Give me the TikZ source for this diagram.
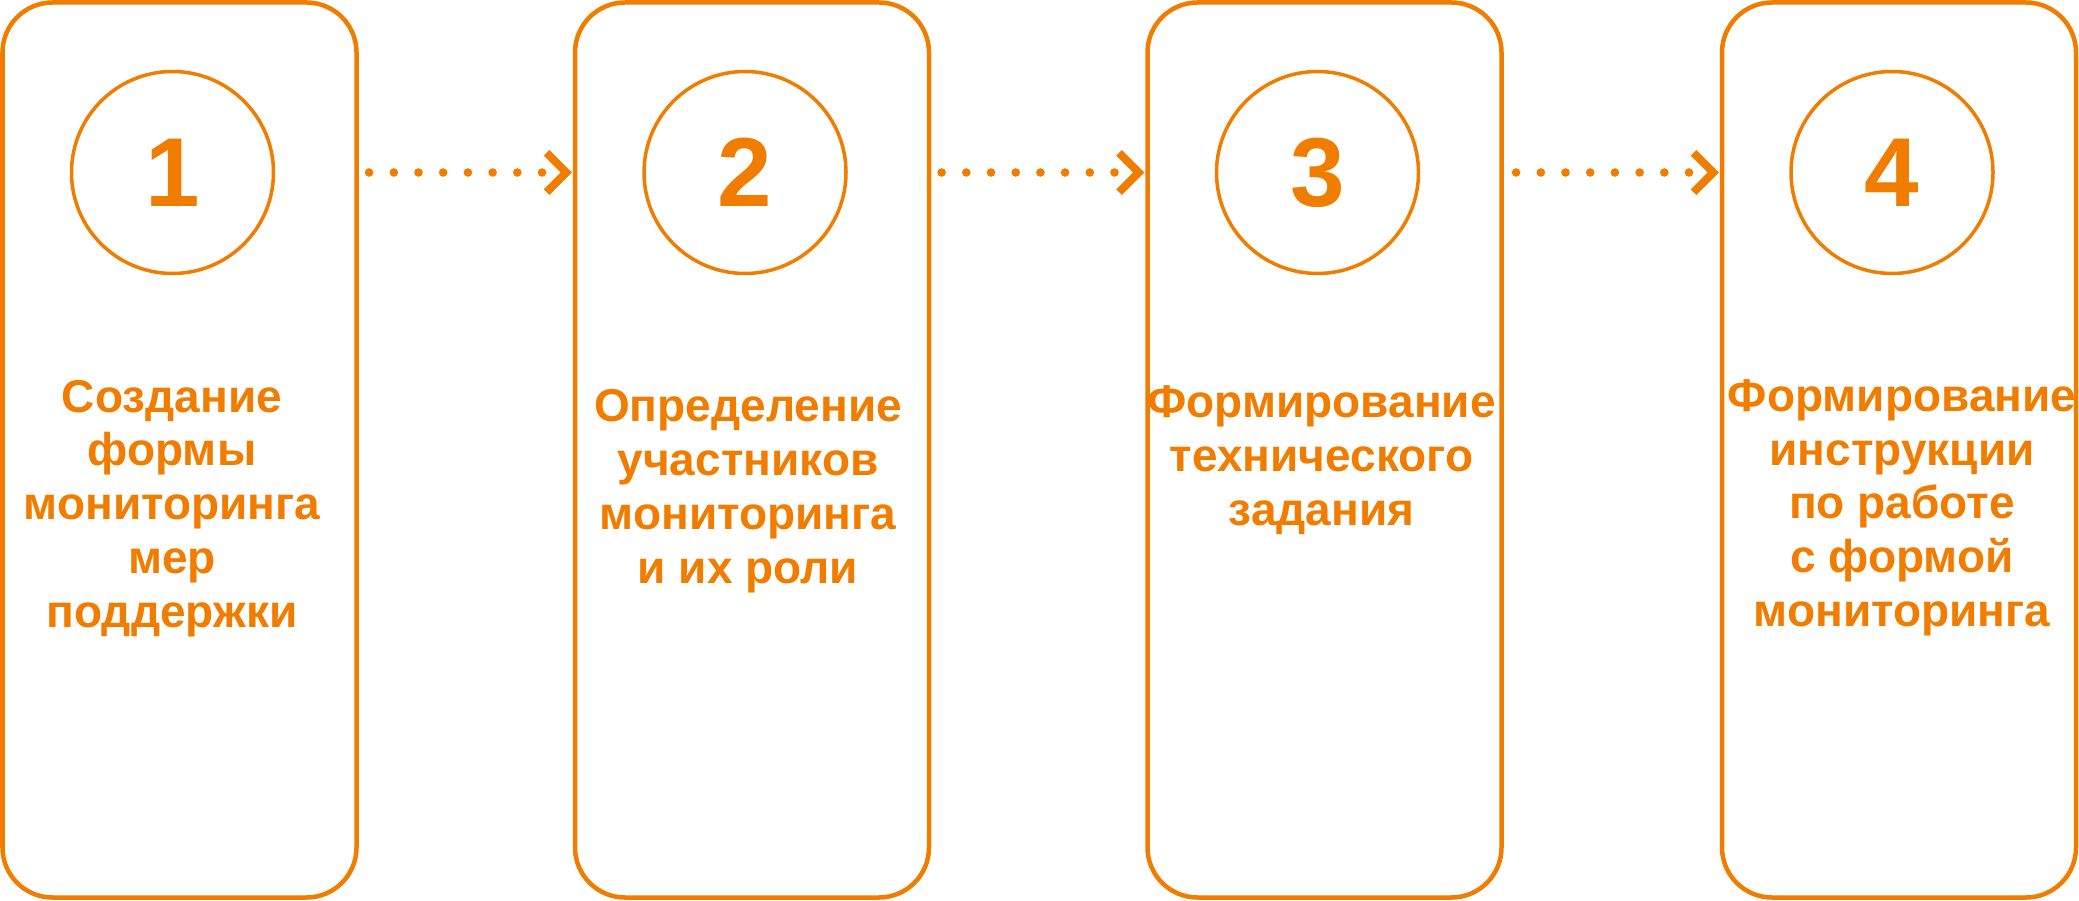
\documentclass[tikz,border=0pt]{standalone}
\usepackage{fontspec}
\setmainfont{Liberation Sans}
\usetikzlibrary{positioning}
\definecolor{stepOrange}{RGB}{240,125,0}
\tikzset{
	stepbox/.style = {draw=stepOrange, line width=4.5pt, rectangle, rounded corners=50pt, minimum width=354pt, minimum height=895pt, inner sep=0pt, outer sep=0pt},
	numcircle/.style = {draw=stepOrange, line width=3.5pt, circle, minimum size=202pt, inner sep=0pt, outer sep=0pt, text=stepOrange, font=\bfseries\fontsize{98pt}{98pt}\selectfont},
	steptext/.style = {text=stepOrange, align=center, anchor=base, inner sep=0pt, font=\bfseries\fontsize{46pt}{53.8pt}\selectfont},
	dotline/.style = {stepOrange, line width=8.6pt, line cap=round, dash pattern=on 0pt off 24.7pt},
	chevron/.style = {stepOrange, line width=8pt, line cap=butt, line join=miter}
}

\begin{document}
\begin{tikzpicture}[x=1pt, y=1pt]
	\useasboundingbox (0,0) rectangle (2079,-901);
	% ========================== Nodes ============================
	% Boxes
	\node [stepbox] (box1) at (179.5,-450) {};
	\node [stepbox, right of=box1, node distance=572.5pt] (box2) {};
	\node [stepbox, right of=box2, node distance=572.5pt] (box3) {};
	\node [stepbox, right of=box3, node distance=574.5pt] (box4) {};

	% Numbers
	\node [numcircle] (num1) at ([xshift=-7pt, yshift=-170pt]box1.north) {1};
	\node [numcircle] (num2) at ([xshift=-7pt, yshift=-170pt]box2.north) {2};
	\node [numcircle] (num3) at ([xshift=-7pt, yshift=-170pt]box3.north) {3};
	\node [numcircle] (num4) at ([xshift=-7pt, yshift=-170pt]box4.north) {4};

	% Texts (base = last line)
	\node [steptext] (txt1) at ([xshift=-7.5pt, yshift=-624.7pt]box1.north) {Создание\\формы\\мониторинга\\мер\\поддержки};
	\node [steptext] (txt2) at ([xshift=-4pt, yshift=-580.5pt]box2.north) {Определение\\участников\\мониторинга\\и их роли};
	\node [steptext] (txt3) at ([xshift=-3pt, yshift=-523pt]box3.north) {Формирование\\технического\\задания};
	\node [steptext] (txt4) at ([xshift=3pt, yshift=-624pt]box4.north) {Формирование\\инструкции\\по работе\\с формой\\мониторинга};

	% Ends of the connectors
	\coordinate (out1) at (box1.east |- num1.center);
	\coordinate (in2) at (box2.west |- num2.center);
	\coordinate (out2) at (box2.east |- num2.center);
	\coordinate (in3) at (box3.west |- num3.center);
	\coordinate (out3) at (box3.east |- num3.center);
	\coordinate (in4) at (box4.west |- num4.center);

	% ========================== Lines ============================
	\draw [dotline] ([xshift=-33pt]in2) -- ([xshift=12pt]out1);
	\draw [chevron] ([shift={(-28.4pt,19.7pt)}]in2) -- ([xshift=-8.7pt]in2) -- ([shift={(-28.4pt,-19.7pt)}]in2);

	\draw [dotline] ([xshift=-33pt]in3) -- ([xshift=12pt]out2);
	\draw [chevron] ([shift={(-28.4pt,19.7pt)}]in3) -- ([xshift=-8.7pt]in3) -- ([shift={(-28.4pt,-19.7pt)}]in3);

	\draw [dotline] ([xshift=-33pt]in4) -- ([xshift=12pt]out3);
	\draw [chevron] ([shift={(-28.4pt,19.7pt)}]in4) -- ([xshift=-8.7pt]in4) -- ([shift={(-28.4pt,-19.7pt)}]in4);
\end{tikzpicture}
\end{document}
